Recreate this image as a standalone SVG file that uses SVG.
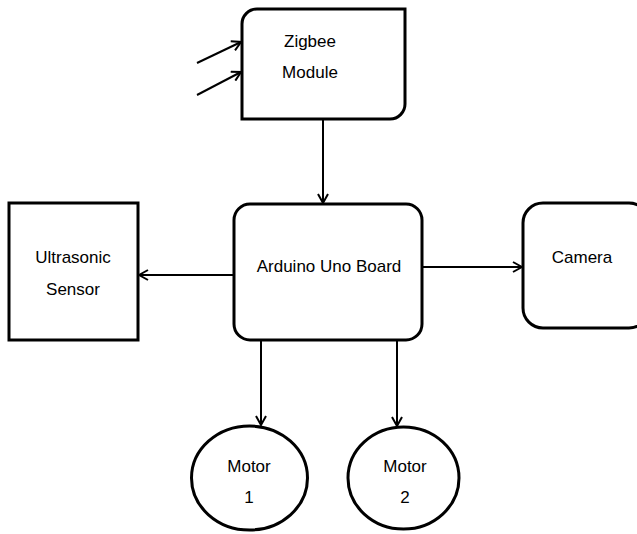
<svg xmlns="http://www.w3.org/2000/svg" width="637" height="534" viewBox="0 0 637 534">
<style>
.box{fill:#fff;stroke:#000;stroke-width:3}
.ln{fill:none;stroke:#000;stroke-width:2;marker-end:url(#ah)}
text{font-family:"Liberation Sans",Arial,sans-serif;font-size:17px;fill:#000;text-anchor:middle}
</style>
<defs>
<marker id="ah" viewBox="0 0 12 12" refX="11" refY="6" markerWidth="12" markerHeight="12" markerUnits="userSpaceOnUse" orient="auto">
<path d="M2,1 L11,6 L2,11" fill="none" stroke="#000" stroke-width="2"/>
</marker>
</defs>
<g id="connectors">
<line class="ln" x1="197" y1="63" x2="241" y2="42"/>
<line class="ln" x1="197" y1="95" x2="241" y2="72"/>
<line class="ln" x1="323" y1="120" x2="323" y2="203"/>
<line class="ln" x1="233" y1="275" x2="139" y2="275"/>
<line class="ln" x1="423" y1="267" x2="522" y2="267"/>
<line class="ln" x1="261" y1="341" x2="261" y2="425"/>
<line class="ln" x1="397" y1="341" x2="397" y2="426"/>
</g>
<g id="zigbee">
<path class="box" d="M257,9 H405 V104 A15,15 0 0 1 390,119 H242 V24 A15,15 0 0 1 257,9 Z"/>
<text x="310" y="47">Zigbee</text>
<text x="310" y="78">Module</text>
</g>
<g id="ultrasonic">
<rect class="box" x="9" y="203" width="129" height="137"/>
<text x="73" y="263">Ultrasonic</text>
<text x="73" y="295">Sensor</text>
</g>
<g id="arduino">
<rect class="box" x="234" y="204" width="188" height="136" rx="16"/>
<text x="329" y="272">Arduino Uno Board</text>
</g>
<g id="camera">
<rect class="box" x="523" y="203" width="126" height="125" rx="20"/>
<text x="582" y="263">Camera</text>
</g>
<g id="motor1">
<ellipse class="box" cx="249.5" cy="478" rx="58" ry="52"/>
<text x="249" y="472">Motor</text>
<text x="249" y="503">1</text>
</g>
<g id="motor2">
<ellipse class="box" cx="403.5" cy="478" rx="55.5" ry="51"/>
<text x="405" y="472">Motor</text>
<text x="405" y="503">2</text>
</g>
</svg>
